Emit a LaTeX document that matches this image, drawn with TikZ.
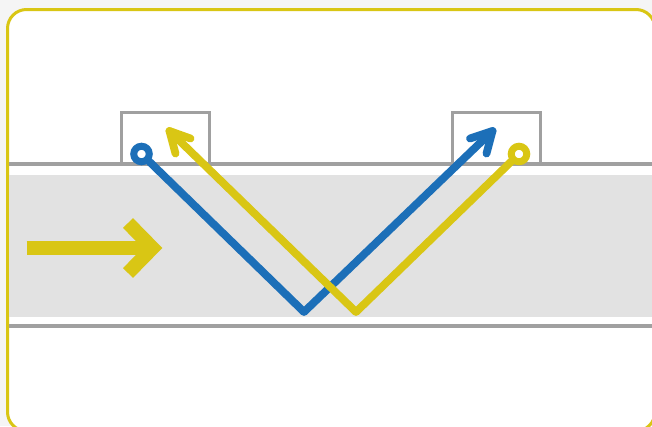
\documentclass[tikz,border=0pt]{standalone}
\definecolor{rayblue}{HTML}{1C6FB8}
\definecolor{rayyellow}{HTML}{D9C614}
\definecolor{railgray}{HTML}{A0A0A0}
\definecolor{bandgray}{HTML}{E2E2E2}
\definecolor{pagegray}{HTML}{F5F5F5}
\tikzset{
  rail/.style={draw=railgray, line width=3.2pt},
  sensorbox/.style={rectangle, draw=railgray, line width=3.2pt, minimum width=88.5pt, minimum height=52pt, inner sep=0pt},
  probe/.style={circle, fill=white, line width=7pt, minimum size=15.5pt, inner sep=0pt},
  ray/.style={line width=7.8pt, line cap=round, line join=round}
}
\begin{document}
\begin{tikzpicture}[x=1pt, y=-1pt]
      \useasboundingbox (0,0) rectangle (652,426);
      \clip (0,0) rectangle (652,426);
      \fill[pagegray] (0,0) rectangle (652,426);
      \draw[rayyellow, fill=white, line width=3pt, rounded corners=19pt] (7.5,9.5) rectangle (655,431);
      \fill[bandgray] (9,175) rectangle (652,317);
      % wall lines and sensors
      \coordinate (topl) at (9,164);
      \coordinate (topr) at (652,164);
      \coordinate (botl) at (9,326);
      \coordinate (botr) at (652,326);
      \node (boxl)[sensorbox] at (165.5,138.5) {};
      \node (boxr)[sensorbox] at (496.5,138.5) {};
      \draw[rail] (topl) -- (topr);
      \draw[rail] (botl) -- (botr);
      % flow arrow
      \coordinate (flowa) at (26.5,248);
      \coordinate (flowb) at (150,248);
      \coordinate (flowc) at (128,223);
      \coordinate (flowd) at (152.5,248);
      \coordinate (flowe) at (128,273);
      \draw[rayyellow, line width=14pt] (flowa) -- (flowb);
      \draw[rayyellow, line width=14pt, miter limit=4] (flowc) -- (flowd) -- (flowe);
      % blue ray
      \node (probel)[probe, draw=rayblue] at (141.5,154) {};
      \coordinate (bouncel) at (304,312);
      \coordinate (tipl) at (492.5,131);
      \coordinate (barbla) at (470,138.5);
      \coordinate (barblb) at (486.5,153.5);
      \draw[ray, rayblue] (probel) -- (bouncel) -- (tipl);
      \draw[ray, rayblue] (barbla) -- (tipl) -- (barblb);
      % yellow ray
      \node (prober)[probe, draw=rayyellow] at (519,154) {};
      \coordinate (bouncer) at (356,312);
      \coordinate (tipr) at (169.5,131);
      \coordinate (barbra) at (190.5,138.5);
      \coordinate (barbrb) at (175.5,153.5);
      \draw[ray, rayyellow] (prober) -- (bouncer) -- (tipr);
      \draw[ray, rayyellow] (barbra) -- (tipr) -- (barbrb);
    \end{tikzpicture}
\end{document}
